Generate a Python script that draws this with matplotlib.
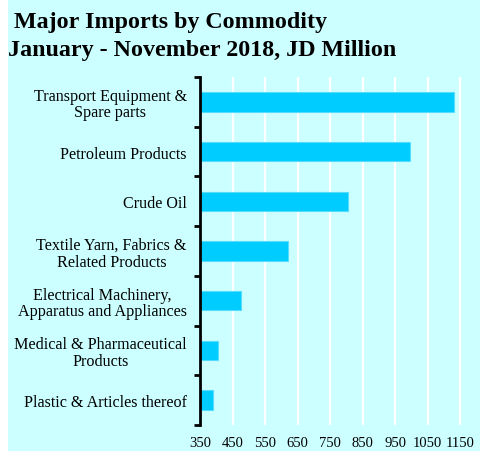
import matplotlib
matplotlib.use("Agg")
import matplotlib.pyplot as plt
import numpy as np

categories = [
    "Transport Equipment &\nSpare parts",
    "Petroleum Products",
    "Crude Oil",
    "Textile Yarn, Fabrics &\nRelated Products",
    "Electrical Machinery,\nApparatus and Appliances",
    "Medical & Pharmaceutical\nProducts",
    "Plastic & Articles thereof",
]
values = [1130, 997, 806, 619, 477, 406, 389]
x_ticks = [350, 450, 550, 650, 750, 850, 950, 1050, 1150]

bg = "#CCFFFF"
bar_color = "#00CCFF"
serif = ["Liberation Serif", "DejaVu Serif"]

fig = plt.figure(figsize=(4.81, 4.52), dpi=100)
fig.patch.set_facecolor("white")
# cyan panel leaving a thin white strip at the left and top
fig.add_artist(plt.Rectangle((8 / 481, 0), 1, 1 - 1 / 452, transform=fig.transFigure,
                             facecolor=bg, edgecolor="none", zorder=0))

ax = fig.add_axes([200 / 481, 1 - 426 / 452, 270 / 481, (426 - 78) / 452])
ax.set_facecolor(bg)

n = len(categories)
ypos = np.arange(n)[::-1]
ax.barh(ypos, values, height=0.39, color=bar_color, edgecolor="#55DDFF",
        linewidth=0.8, zorder=3)

ax.set_xlim(350, 1180)
ax.set_ylim(-0.5, n - 0.5)
ax.set_xticks(x_ticks)
ax.set_xticklabels([str(t) for t in x_ticks], fontfamily=serif, fontsize=10.5)
ax.tick_params(axis="x", length=0, pad=8)
ax.grid(axis="x", color="white", linewidth=1.6, zorder=1)

ax.set_yticks(ypos)
ax.set_yticklabels(categories, fontfamily=serif, fontsize=11.6, ha="right",
                   multialignment="center", linespacing=1.05)
ax.tick_params(axis="y", which="major", length=0, pad=9.5)
ax.set_yticks(np.arange(-0.5, n, 1.0), minor=True)
ax.tick_params(axis="y", which="minor", length=4, width=2, color="black",
               direction="out")

for s in ["top", "right", "bottom"]:
    ax.spines[s].set_visible(False)
ax.spines["left"].set_linewidth(2)
ax.spines["left"].set_zorder(4)

fig.text(14 / 481, 1 - 28 / 452, "Major Imports by Commodity", fontfamily=serif,
         fontsize=17.3, fontweight="bold", ha="left", va="baseline")
fig.text(8 / 481, 1 - 56 / 452, "January - November 2018, JD Million", fontfamily=serif,
         fontsize=17.3, fontweight="bold", ha="left", va="baseline")

fig.savefig("out.png", dpi=100, facecolor=fig.get_facecolor())
